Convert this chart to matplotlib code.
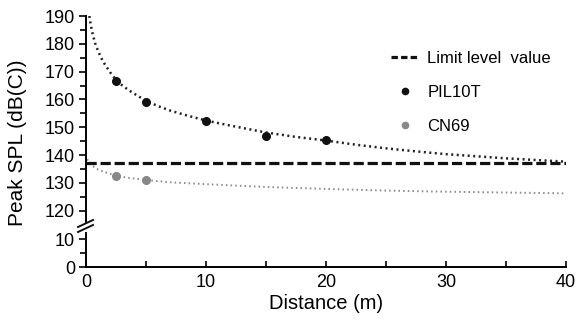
import matplotlib

matplotlib.use("Agg")
import matplotlib.pyplot as plt
from matplotlib.lines import Line2D

plt.rcParams["font.family"] = ["Liberation Sans", "DejaVu Sans"]

# measured points
pil_x = [2.5, 5, 10, 15, 20]
pil_y = [166.6, 159.2, 152.2, 147.0, 145.4]
cn_x = [2.5, 5]
cn_y = [132.6, 130.9]

# fitted curves
pil_fit_x = [0.28, 0.35, 0.5, 0.75, 1.0, 1.25, 1.5, 2.0, 2.5, 3.0, 3.5, 4.0, 5.0, 6.0, 7.0, 8.5,
             10, 12, 15, 17.5, 20, 22.5, 25, 27.5, 30, 35, 40]
pil_fit_y = [190.0, 188.0, 184.5, 180.3, 177.5, 175.1, 173.1, 169.8, 167.0, 165.1, 163.5, 162.1, 159.5, 157.6, 156.0, 154.1,
             152.4, 150.6, 148.1, 146.5, 145.2, 143.7, 142.4, 141.3, 140.3, 138.8, 137.6]
cn_fit_x = [0.1, 0.3, 0.5, 1.0, 1.5, 2.5, 3.5, 5, 7, 10, 15, 20, 25, 30, 35, 40]
cn_fit_y = [138.5, 137.0, 136.2, 134.8, 133.9, 132.6, 131.8, 131.0, 130.2, 129.5, 128.5, 127.8, 127.2, 126.8, 126.5, 126.2]

limit_level = 137.0
x_ticks = [0, 10, 20, 30, 40]
upper_ticks = [120, 130, 140, 150, 160, 170, 180, 190]
lower_ticks = [0, 10]

fig = plt.figure(figsize=(5.78, 3.23), dpi=100)
left, width = 86 / 578, 480 / 578
ax = fig.add_axes([left, 1 - 222 / 323, width, 206 / 323])
ax_lo = fig.add_axes([left, 1 - 267 / 323, width, 34 / 323])

ax.set_ylim(115.9, 190)
ax_lo.set_ylim(0, 12.2)
for a in (ax, ax_lo):
    a.set_xlim(0, 40)
    a.patch.set_alpha(0)
    for s in ("top", "right"):
        a.spines[s].set_visible(False)
    a.spines["left"].set_linewidth(1.4)
    a.tick_params(axis="y", direction="out", length=5, width=1.2, labelsize=13, pad=3)
    a.tick_params(axis="y", which="minor", direction="out", length=4, width=1.2)

ax.spines["bottom"].set_visible(False)
ax.set_xticks([])
ax.set_yticks(upper_ticks)
ax.set_yticks(range(120, 190, 5), minor=True)

ax_lo.spines["bottom"].set_linewidth(1.4)
ax_lo.set_yticks(lower_ticks)
ax_lo.set_yticks([5], minor=True)
ax_lo.set_xticks(x_ticks)
ax_lo.set_xticks([5, 15, 25, 35], minor=True)
ax_lo.tick_params(axis="x", which="both", direction="in", length=4, width=1.2, labelsize=13, pad=5)
ax_lo.set_xlabel("Distance (m)", fontsize=14.5, labelpad=2)

# curves and points
ax.plot(pil_fit_x, pil_fit_y, color="#222222", lw=1.8, linestyle=(0, (0.8, 1.4)))
ax.plot(cn_fit_x, cn_fit_y, color="#8c8c8c", lw=1.4, linestyle=(0, (0.8, 1.6)))
ax.axhline(limit_level, color="#111111", lw=2.3, linestyle=(0, (3.2, 1.2)))
ax.plot(pil_x, pil_y, "o", color="#111111", ms=5.5)
ax.plot(cn_x, cn_y, "o", color="#888888", ms=5.5)

handles = [
    Line2D([], [], color="#111111", lw=2.3, linestyle=(0, (2, 1))),
    Line2D([], [], color="#111111", marker="o", ms=4.5, lw=0),
    Line2D([], [], color="#888888", marker="o", ms=4.5, lw=0),
]
ax.legend(handles, ["Limit level  value", "PIL10T", "CN69"], loc="upper right",
          bbox_to_anchor=(1.0, 0.905), frameon=False, fontsize=12, labelspacing=1.15,
          handlelength=1.7, handletextpad=0.5)

fig.text(18 / 578, 1 - 143 / 323, "Peak SPL (dB(C))", rotation=90, fontsize=15,
         ha="center", va="center")

# axis break marks
for dy in (0, 5):
    y0 = 1 - (232 - dy) / 323
    fig.add_artist(Line2D([78 / 578, 93 / 578], [y0, y0 + 7 / 323], color="#111111", lw=1.4))

fig.savefig("out.png", dpi=100)
